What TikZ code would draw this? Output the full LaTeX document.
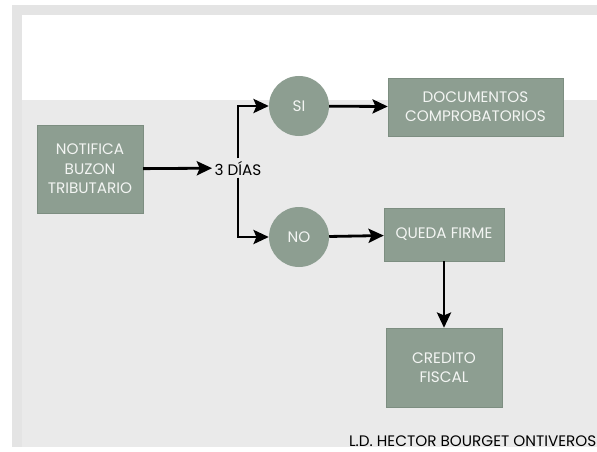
\documentclass[tikz,border=0pt]{standalone}
\usepackage{fontspec}
\setmainfont{Poppins}
\usetikzlibrary{arrows.meta, positioning}
\definecolor{frmgray}{HTML}{E4E4E4}
\definecolor{pnlgray}{HTML}{EAEAEA}
\definecolor{boxgreen}{HTML}{8D9E91}
\definecolor{boxedge}{HTML}{7D8E81}
\definecolor{boxtext}{HTML}{F3F5F3}

\begin{document}
\begin{tikzpicture}[
  x=0.03cm, y=-0.03cm,
  every node/.style={font=\fontsize{13}{16.5}\selectfont},
  stepbox/.style={rectangle, draw=boxedge, fill=boxgreen, text=boxtext, align=center, inner sep=2pt},
  choice/.style={circle, fill=boxgreen, text=boxtext, minimum size=1.8cm, inner sep=0pt},
  flow/.style={-{Stealth[length=13pt, width=12pt, inset=2.5pt]}, line width=2.4pt, black},
]
\useasboundingbox (0,0) rectangle (597,451);

% background panels
\fill[white] (0,0) rectangle (597,451);
\fill[frmgray] (12,5) rectangle (597,447);
\fill[white] (22,15) rectangle (597,100);
\fill[pnlgray] (22,100) rectangle (597,447);

% boxes
\node[stepbox, minimum width=3.18cm, minimum height=2.64cm] (notifica) at (90,169) {NOTIFICA\\BUZON\\TRIBUTARIO};
\node[fill=pnlgray, inner sep=2pt] (dias) at (238,168) {3 DÍAS};
\node[choice] (si) at (299,106) {SI};
\node[choice] (no) at (299,237) {NO};
\node[stepbox, minimum width=5.25cm, minimum height=1.74cm] (docs) at (475.5,107) {DOCUMENTOS\\COMPROBATORIOS};
\node[stepbox, minimum width=3.6cm, minimum height=1.59cm] (queda) at (444,234.5) {QUEDA FIRME};
\node[stepbox, minimum width=3.48cm, minimum height=2.37cm] (credito) at (444,367.5) {CREDITO\\FISCAL};

\node[anchor=west] (autor) at (345,441) {L.D. HECTOR BOURGET ONTIVEROS};

% connectors
\draw[flow] (notifica) -- (dias);
\draw[flow] (dias.north) |- (si);
\draw[flow] (dias.south) |- (no);
\draw[flow] (si) -- (docs);
\draw[flow] (no) -- (queda);
\draw[flow] (queda) -- (credito);

\end{tikzpicture}
\end{document}
